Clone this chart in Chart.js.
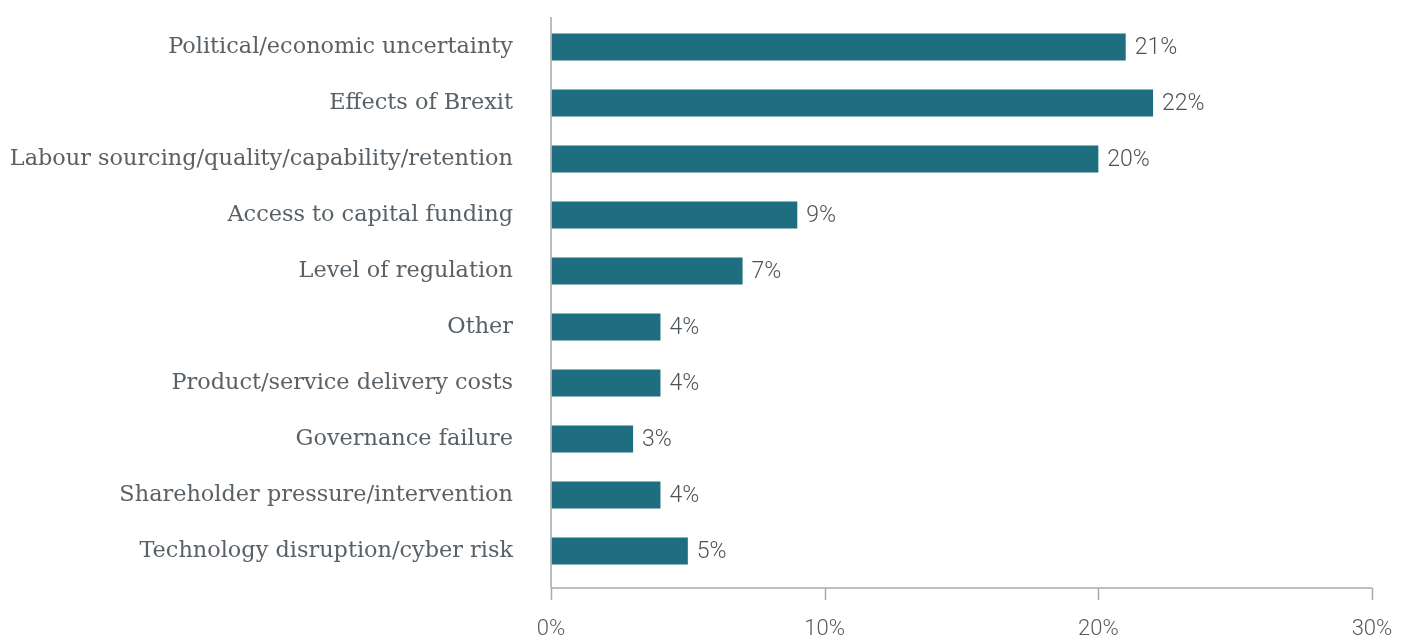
<!DOCTYPE html>
<html>
<head>
<meta charset="utf-8">
<script src="https://cdn.jsdelivr.net/npm/chart.js@4"></script>
<style>
  html, body { margin: 0; padding: 0; background: #ffffff; }
  #wrap { width: 1402px; height: 637px; position: relative; }
</style>
</head>
<body>
<div id="wrap"><canvas id="chart" width="1402" height="637"></canvas></div>
<script>
// Biggest risks to the business, share of respondents (%)
const categories = [
  'Political/economic uncertainty',
  'Effects of Brexit',
  'Labour sourcing/quality/capability/retention',
  'Access to capital funding',
  'Level of regulation',
  'Other',
  'Product/service delivery costs',
  'Governance failure',
  'Shareholder pressure/intervention',
  'Technology disruption/cyber risk'
];
const shares = [21, 22, 20, 9, 7, 4, 4, 3, 4, 5];
const xTicks = [0, 10, 20, 30];

const BAR = '#1e6e80';
const AXIS = '#a3abaf';
const TEXT = '#4d5459';

// Axis lines drawn slightly outside the plotting area, with downward ticks
const axisLines = {
  id: 'axisLines',
  afterDraw(chart) {
    const { ctx, chartArea, scales } = chart;
    const x = scales.x;
    const x0 = x.getPixelForValue(0);
    const x1 = x.getPixelForValue(30);
    const baseY = chartArea.bottom + 9;
    ctx.save();
    ctx.strokeStyle = AXIS;
    ctx.lineWidth = 1.5;
    ctx.beginPath();
    ctx.moveTo(x0, chartArea.top - 2);
    ctx.lineTo(x0, baseY);
    ctx.moveTo(x0, baseY);
    ctx.lineTo(x1, baseY);
    xTicks.forEach(v => {
      const px = Math.round(x.getPixelForValue(v)) + 0.5;
      ctx.moveTo(px, baseY);
      ctx.lineTo(px, baseY + 12);
    });
    ctx.stroke();
    ctx.restore();
  }
};

// Percentage label to the right of each bar
const valueLabels = {
  id: 'valueLabels',
  afterDatasetsDraw(chart) {
    const { ctx } = chart;
    const meta = chart.getDatasetMeta(0);
    ctx.save();
    ctx.font = '300 23px Roboto';
    ctx.fillStyle = TEXT;
    ctx.textAlign = 'left';
    ctx.textBaseline = 'middle';
    meta.data.forEach((bar, i) => {
      ctx.fillText(shares[i] + '%', bar.x + 9, bar.y + 1);
    });
    ctx.restore();
  }
};

new Chart(document.getElementById('chart'), {
  type: 'bar',
  data: {
    labels: categories,
    datasets: [{
      data: shares,
      backgroundColor: BAR,
      borderWidth: 0,
      barPercentage: 0.96,
      categoryPercentage: 0.5
    }]
  },
  options: {
    indexAxis: 'y',
    responsive: false,
    animation: false,
    layout: { padding: { top: 19, right: 30, left: 0, bottom: 0 } },
    plugins: {
      legend: { display: false },
      tooltip: { enabled: false }
    },
    scales: {
      x: {
        min: 0,
        max: 30,
        afterBuildTicks(scale) {
          scale.ticks = xTicks.map(v => ({ value: v }));
        },
        afterFit(scale) { scale.height = 58; },
        border: { display: false },
        grid: {
          display: true,
          drawOnChartArea: false,
          drawTicks: true,
          tickLength: 37,
          color: 'rgba(0,0,0,0)',
          tickColor: 'rgba(0,0,0,0)'
        },
        ticks: {
          padding: 0,
          maxRotation: 0,
          color: '#555b60',
          font: { family: 'Roboto', weight: '300', size: 22 },
          callback: v => v + '%'
        }
      },
      y: {
        afterFit(scale) { scale.width = 551; },
        border: { display: false },
        grid: {
          display: true,
          drawOnChartArea: false,
          drawTicks: true,
          tickLength: 38,
          color: 'rgba(0,0,0,0)',
          tickColor: 'rgba(0,0,0,0)'
        },
        ticks: {
          padding: 0,
          color: '#5a6166',
          font: { family: "'DejaVu Serif', serif", size: 22.4 }
        }
      }
    }
  },
  plugins: [axisLines, valueLabels]
});
</script>
</body>
</html>
